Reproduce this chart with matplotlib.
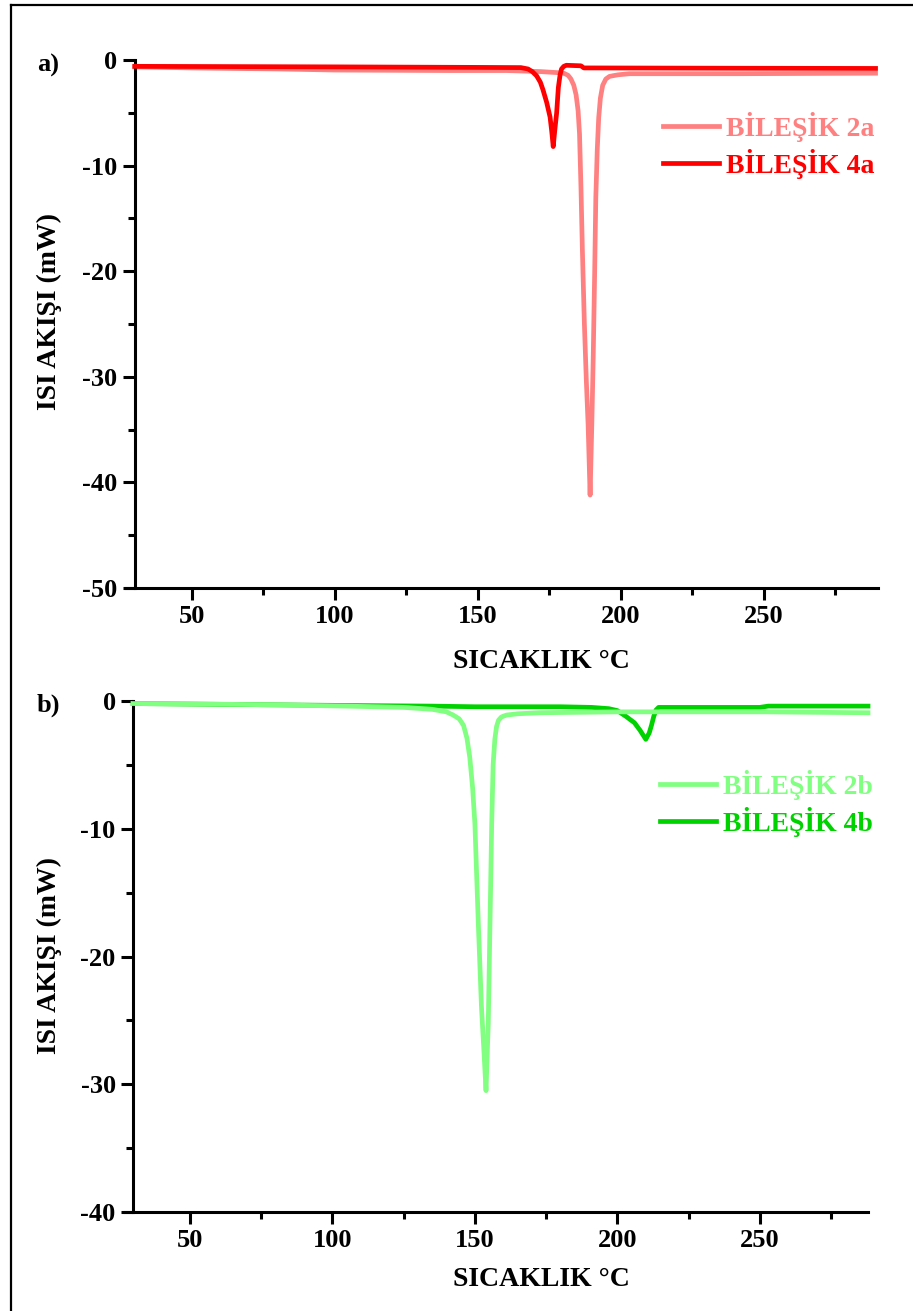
import numpy as np
import matplotlib
matplotlib.use("Agg")
import matplotlib.pyplot as plt
from matplotlib.lines import Line2D
from matplotlib.ticker import MultipleLocator

plt.rcParams['font.family'] = ['Liberation Serif', 'DejaVu Serif']
plt.rcParams['font.weight'] = 'bold'
plt.rcParams['axes.unicode_minus'] = False

# ---- panel a) : compounds 2a / 4a
x_2a = [30, 50, 80, 100, 140, 160, 172, 178, 180, 181.5, 182.5, 183.5, 184.3,
        185, 185.5, 186, 186.5, 187.2, 187.9, 188.5, 189.2, 189.8, 190.3, 190.8,
        191.2, 191.7, 192.2, 192.8, 193.6, 194.7, 196, 199, 203, 240, 289]
y_2a = [-0.65, -0.75, -0.85, -0.95, -1.0, -1.0, -1.1, -1.2, -1.25, -1.45, -1.8,
        -2.4, -3.3, -4.8, -7.0, -12.0, -18.0, -25.0, -30.5, -34.5, -41.2, -34.5,
        -28.0, -20.0, -13.0, -8.5, -5.5, -3.6, -2.4, -1.8, -1.55, -1.4, -1.3,
        -1.3, -1.25]

x_4a = [30, 100, 150, 165, 167.5, 169, 170.5, 171.8, 172.7, 174, 175.2, 175.8,
        176.3, 176.8, 177.5, 178.1, 178.7, 179.2, 180, 180.9, 186, 187, 240, 289]
y_4a = [-0.6, -0.65, -0.7, -0.72, -0.85, -1.1, -1.5, -2.1, -2.8, -4.0, -5.4,
        -6.8, -8.2, -6.8, -5.0, -2.6, -1.4, -0.85, -0.6, -0.5, -0.55, -0.75,
        -0.78, -0.8]

# ---- panel b) : compounds 2b / 4b
x_2b = [30, 60, 79, 105, 125, 135, 140, 142.4, 144.5, 146, 147.2, 148.2, 149.2,
        150, 151.2, 152.3, 153.2, 153.9, 154.7, 155.3, 155.9, 156.4, 157,
        157.6, 158.3, 159.3, 161.1, 165, 172.8, 200, 252, 288]
y_2b = [-0.2, -0.25, -0.3, -0.4, -0.5, -0.65, -0.85, -1.1, -1.4, -1.9, -2.9,
        -4.4, -6.8, -9.6, -17.4, -23.9, -27.5, -30.5, -25.2, -17.4, -9.6, -5.0,
        -3.0, -2.0, -1.5, -1.25, -1.1, -1.0, -0.92, -0.85, -0.85, -0.92]

x_4b = [30, 80, 105, 135, 150, 180, 191, 197, 200, 203, 206, 208, 210, 211.2,
        212, 212.8, 213.6, 214.5, 250, 253, 288]
y_4b = [-0.2, -0.3, -0.35, -0.4, -0.45, -0.45, -0.5, -0.6, -0.75, -1.2, -1.7,
        -2.3, -3.0, -2.5, -1.9, -1.2, -0.7, -0.5, -0.5, -0.4, -0.4]

W, H = 913, 1311
fig = plt.figure(figsize=(W / 100, H / 100), dpi=100)

# outer frame (left and top edges only visible)
fig.add_artist(Line2D([11 / W, 11 / W], [0, 1 - 5 / H], color='black', lw=1.6,
                      transform=fig.transFigure))
fig.add_artist(Line2D([11 / W, 1], [1 - 5 / H, 1 - 5 / H], color='black', lw=1.6,
                      transform=fig.transFigure))


def px_axes(l, r, t, b):
    return fig.add_axes([l / W, 1 - b / H, (r - l) / W, (b - t) / H])


def style(ax, ymin, xmax):
    ax.set_xlim(27, xmax)
    ax.set_ylim(ymin, 0)
    for s in ['top', 'right']:
        ax.spines[s].set_visible(False)
    ax.spines['left'].set_position(('data', 30))
    for s in ['left', 'bottom']:
        ax.spines[s].set_linewidth(2.2)
    ax.yaxis.set_major_locator(MultipleLocator(10))
    ax.yaxis.set_minor_locator(MultipleLocator(5))
    ax.tick_params(which='major', direction='out', length=8.5, width=2.2,
                   labelsize=19, pad=4)
    ax.tick_params(which='minor', direction='out', length=5, width=2.2)
    ax.set_xticks([50, 100, 150, 200, 250])
    ax.set_xticks([75, 125, 175, 225, 275], minor=True)
    for lab in ax.get_xticklabels() + ax.get_yticklabels():
        lab.set_fontweight('bold')


# ------------------ a)
ax0 = px_axes(126.2, 878.4, 60, 588)
style(ax0, -50, 290)
l2a, = ax0.plot(x_2a, y_2a, color='#FF8080', lw=3.4, label='BİLEŞİK 2a',
                zorder=2, clip_on=False)
l4a, = ax0.plot(x_4a, y_4a, color='#FF0000', lw=3.4, label='BİLEŞİK 4a',
                zorder=3, clip_on=False)
ax0.set_xlabel('SICAKLIK °C', fontsize=20, fontweight='bold')
ax0.set_ylabel('ISI AKIŞI (mW)', fontsize=20, fontweight='bold')
ax0.xaxis.set_label_coords((541 - 126.2) / 752.2, (588 - 662) / 528)
ax0.xaxis.label.set_va('center')
ax0.yaxis.set_label_coords((49 - 126.2) / 752.2, (588 - 312) / 528)
ax0.yaxis.label.set_va('center')
ax0.legend(handles=[l2a, l4a], loc='upper left',
           bbox_to_anchor=((663 - 126.2) / 752.2, (588 - 112) / 528),
           frameon=False, handlelength=2.0, handletextpad=0.25,
           labelspacing=0.25, borderpad=0, borderaxespad=0,
           labelcolor='linecolor', prop={'weight': 'bold', 'size': 20})
fig.text(48 / W, 1 - 65 / H, 'a)', fontsize=19, fontweight='bold',
         ha='center', va='center')

# ------------------ b)
ax1 = px_axes(124.5, 868, 701, 1212)
style(ax1, -40, 288)
l4b, = ax1.plot(x_4b, y_4b, color='#00D200', lw=3.4, label='BİLEŞİK 4b',
                zorder=2, clip_on=False)
l2b, = ax1.plot(x_2b, y_2b, color='#80FF80', lw=3.4, label='BİLEŞİK 2b',
                zorder=3, clip_on=False)
ax1.set_xlabel('SICAKLIK °C', fontsize=20, fontweight='bold')
ax1.set_ylabel('ISI AKIŞI (mW)', fontsize=20, fontweight='bold')
ax1.xaxis.set_label_coords((541 - 124.5) / 743.5, (1212 - 1280) / 511)
ax1.xaxis.label.set_va('center')
ax1.yaxis.set_label_coords((49 - 124.5) / 743.5, (1212 - 956) / 511)
ax1.yaxis.label.set_va('center')
ax1.legend(handles=[l2b, l4b], loc='upper left',
           bbox_to_anchor=((660 - 124.5) / 743.5, (1212 - 770) / 511),
           frameon=False, handlelength=2.0, handletextpad=0.25,
           labelspacing=0.25, borderpad=0, borderaxespad=0,
           labelcolor='linecolor', prop={'weight': 'bold', 'size': 20})
fig.text(48 / W, 1 - 705 / H, 'b)', fontsize=19, fontweight='bold',
         ha='center', va='center')

fig.savefig('out.png', dpi=100)
